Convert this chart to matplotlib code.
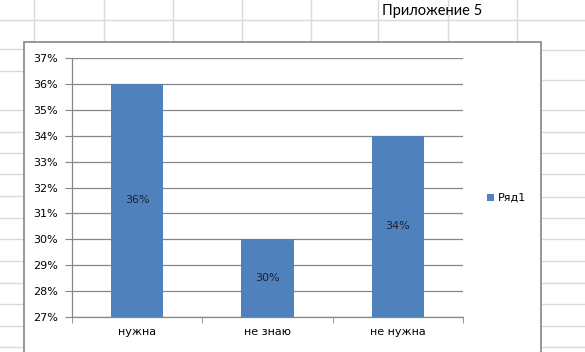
import matplotlib
matplotlib.use("Agg")
import matplotlib.pyplot as plt
from matplotlib.patches import Rectangle
from matplotlib.ticker import PercentFormatter

# data
categories = ["нужна", "не знаю", "не нужна"]
values = [0.36, 0.30, 0.34]
series_name = "Ряд1"
y_ticks = [0.27, 0.28, 0.29, 0.30, 0.31, 0.32, 0.33, 0.34, 0.35, 0.36, 0.37]

W, H = 585, 352
BAR_COLOR = "#4f81bd"
EDGE = "#868686"
SHEET = "#d9d9d9"

fig = plt.figure(figsize=(W / 100, H / 100), dpi=100)

# spreadsheet background drawn in pixel coordinates
bg = fig.add_axes([0, 0, 1, 1])
bg.set_xlim(0, W)
bg.set_ylim(H, 0)
bg.axis("off")

box_l, box_r, box_t = 24, 541, 42
bg.plot([0, W], [20, 20], color=SHEET, lw=1)
for x in [34, 104, 173, 242, 311, 378, 448, 517]:
    bg.plot([x, x], [0, box_t], color=SHEET, lw=1)
for y in [49, 71, 110, 132, 153, 174, 196, 218, 239, 261, 283, 304, 326, 347]:
    bg.plot([0, box_l], [y, y], color=SHEET, lw=1)
for y in [50, 80, 110, 132, 153, 174, 197, 218, 239, 261, 283, 304, 326, 347]:
    bg.plot([box_r, W], [y, y], color=SHEET, lw=1)

# chart area runs past the bottom of the screenshot
bg.add_patch(Rectangle((box_l, box_t), box_r - box_l, H - box_t + 30,
                       facecolor="white", edgecolor=EDGE, lw=1.2, zorder=3))
bg.text(382, 11, "Приложение 5", fontsize=10.5, family="Lato",
        va="center", ha="left", color="black")

# chart plot area
pl, pr, pt, pb = 72, 463, 58, 317
ax = fig.add_axes([pl / W, 1 - pb / H, (pr - pl) / W, (pb - pt) / H])
ax.set_facecolor("none")

x = range(len(categories))
bars = ax.bar(x, values, width=0.4, color=BAR_COLOR, zorder=3, label=series_name)
ax.set_xlim(-0.5, len(categories) - 0.5)
ax.set_ylim(y_ticks[0], y_ticks[-1])
ax.set_yticks(y_ticks)
ax.yaxis.set_major_formatter(PercentFormatter(1.0, decimals=0))
ax.grid(axis="y", color=EDGE, lw=0.9, zorder=1)

for xi, v in zip(x, values):
    ax.text(xi, (y_ticks[0] + v) / 2, f"{round(v * 100)}%", ha="center",
            va="center", fontsize=8, color="#1a2230", zorder=4)

ax.set_xticks(list(x))
ax.set_xticklabels(categories)
ax.set_xticks([i - 0.5 for i in range(len(categories) + 1)], minor=True)
ax.tick_params(axis="x", which="major", length=0, pad=7, labelsize=8)
ax.tick_params(axis="x", which="minor", length=4, color=EDGE, direction="out")
ax.tick_params(axis="y", length=5, color=EDGE, pad=5, labelsize=8)

for s in ["top", "right"]:
    ax.spines[s].set_visible(False)
for s in ["left", "bottom"]:
    ax.spines[s].set_color(EDGE)
    ax.spines[s].set_linewidth(0.9)

fig.legend(handles=[bars], labels=[series_name], loc="center left",
           bbox_to_anchor=(477 / W, 1 - 198 / H), frameon=False, fontsize=8,
           handlelength=0.6, handleheight=0.6, handletextpad=0.4)

fig.savefig("out.png", dpi=100)
